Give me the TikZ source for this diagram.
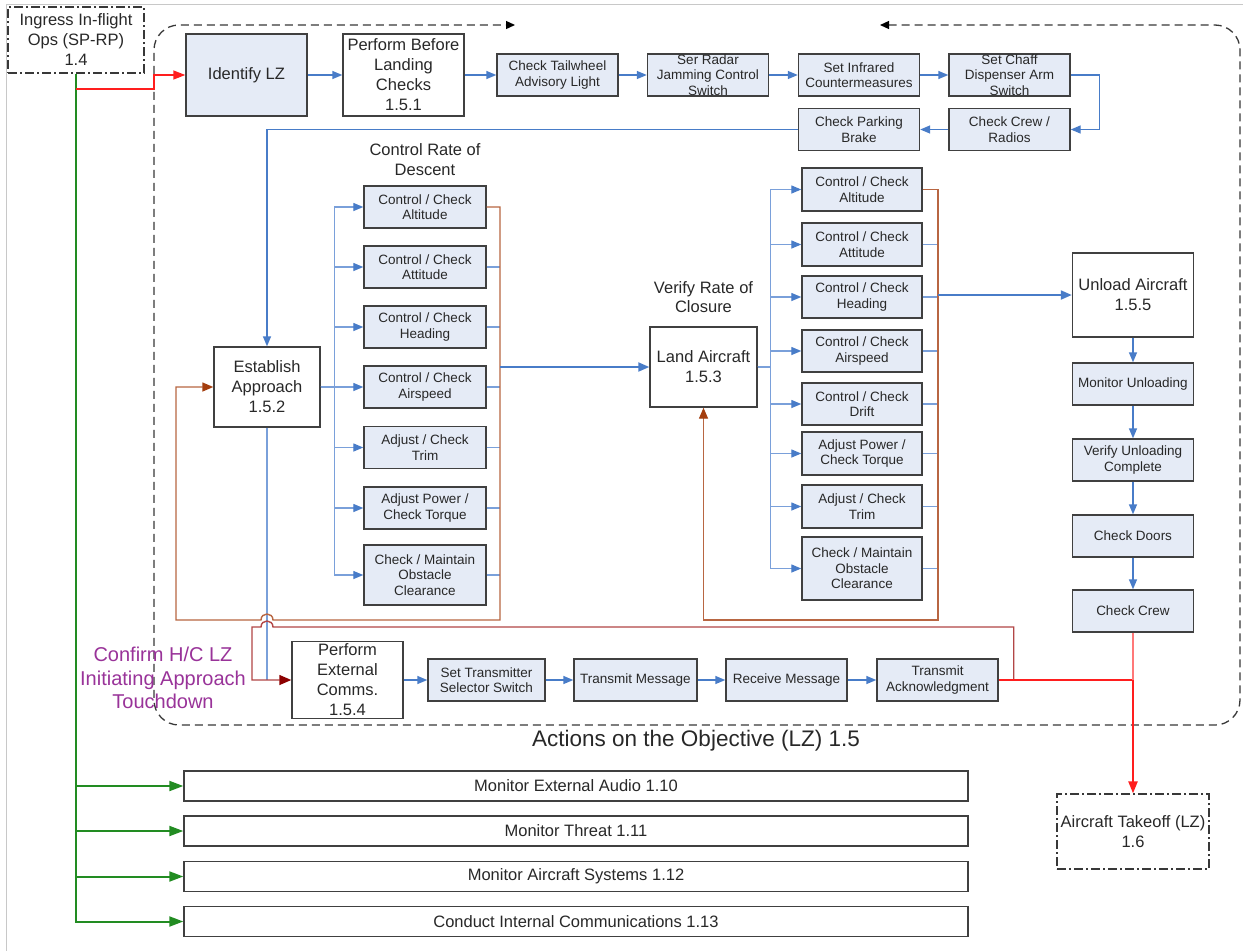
\documentclass[tikz,border=0pt]{standalone}
\usepackage{fontspec}
\setmainfont{Liberation Sans}
\usetikzlibrary{arrows.meta,calc}

\definecolor{boxfill}{RGB}{229,235,246}
\definecolor{boxline}{RGB}{64,64,64}
\definecolor{textgray}{RGB}{40,40,40}
\definecolor{flow}{RGB}{72,124,200}
\definecolor{flowlight}{RGB}{122,160,218}
\definecolor{fbline}{RGB}{184,102,66}
\definecolor{fbhead}{RGB}{164,62,14}
\definecolor{commline}{RGB}{178,70,70}
\definecolor{commhead}{RGB}{140,0,0}
\definecolor{alarm}{RGB}{255,30,30}
\definecolor{alarmpale}{RGB}{255,120,120}
\definecolor{monitor}{RGB}{34,140,34}
\definecolor{note}{RGB}{153,51,153}
\definecolor{framegray}{RGB}{200,200,200}
\definecolor{regiongray}{RGB}{56,56,56}

\tikzset{
  boxbase/.style={draw=boxline, line width=1.4pt, rectangle, inner sep=0pt,
    align=center, text=textgray},
  task/.style={boxbase, fill=boxfill, minimum width=121pt, minimum height=42pt,
    font=\fontsize{13.5}{15.5}\selectfont},
  phase/.style={boxbase, fill=white, font=\fontsize{16.5}{20}\selectfont},
  monbox/.style={boxbase, fill=white, minimum width=784pt, minimum height=30pt,
    font=\fontsize{16.5}{19}\selectfont},
  extbox/.style={draw=regiongray, line width=1.2pt,
    dash pattern=on 9pt off 3pt on 2pt off 3pt, inner sep=0pt, align=center,
    text=textgray, font=\fontsize{16.5}{20}\selectfont},
  caption/.style={align=center, inner sep=0pt, text=textgray,
    font=\fontsize{16.5}{19.5}\selectfont},
  flowarrow/.style={draw=flow, line width=1.4pt,
    -{Triangle[length=10pt,width=8pt,color=flow]}},
  flowfan/.style={draw=flowlight, line width=1.3pt,
    -{Triangle[length=10pt,width=8pt,color=flow]}},
  flowmain/.style={draw=flow, line width=2pt,
    -{Triangle[length=11pt,width=9pt,color=flow]}},
  flowthin/.style={draw=flowlight, line width=1.3pt},
  fback/.style={draw=fbline, line width=1.4pt,
    -{Triangle[length=11pt,width=9pt,color=fbhead]}},
  commback/.style={draw=commline, line width=1.4pt,
    -{Triangle[length=12pt,width=10pt,color=commhead]}},
  alarmline/.style={draw=alarm, line width=2pt},
  alarmpaleline/.style={draw=alarmpale, line width=2pt},
  alarmarrow/.style={draw=alarm, line width=2.2pt,
    -{Triangle[length=12pt,width=9pt,color=alarm]}},
  monarrow/.style={draw=monitor, line width=2pt,
    -{Triangle[length=14pt,width=10pt,color=monitor]}},
}

\begin{document}
\begin{tikzpicture}[x=1pt,y=-1pt]
\useasboundingbox (0,0) rectangle (1243,951);
\fill[white] (0,0) rectangle (1243,951);
\draw[framegray, line width=1pt] (6.5,951) -- (6.5,4.5) -- (1243,4.5);

% dashed region of phase 1.5, open at the top
\draw[regiongray, line width=1.3pt, dash pattern=on 8pt off 5pt, rounded corners=25pt,
  {Triangle[length=9pt,width=8pt,color=black]}-{Triangle[length=9pt,width=8pt,color=black]}]
  (880,25) -- (1240,25) -- (1240,725) -- (154,725) -- (154,25) -- (515,25);

% neighbouring phases
\node[extbox, minimum width=136pt, minimum height=66pt] (ing) at (76,40)
  {Ingress In-flight\\Ops (SP-RP)\\1.4};
\node[extbox, minimum width=152pt, minimum height=75pt] (tko) at (1133,831.5)
  {Aircraft Takeoff (LZ)\\1.6};

% top row
\node[phase, fill=boxfill, minimum width=121pt, minimum height=82pt] (lz) at (246.5,75) {Identify LZ};
\node[phase, minimum width=121pt, minimum height=82pt] (pbl) at (403.5,75)
  {Perform Before\\Landing\\Checks\\1.5.1};
\node[task] (ctw) at (557.5,75) {Check Tailwheel\\Advisory Light};
\node[task] (srj) at (708,75) {Ser Radar\\Jamming Control\\Switch};
\node[task] (sir) at (859,75) {Set Infrared\\Countermeasures};
\node[task] (scd) at (1009.5,75) {Set Chaff\\Dispenser Arm\\Switch};
\node[task] (ccr) at (1009.5,129.5) {Check Crew /\\Radios};
\node[task] (cpb) at (859,129.5) {Check Parking\\Brake};

% approach
\node[phase, minimum width=106pt, minimum height=80pt] (ea) at (267,387)
  {Establish\\Approach\\1.5.2};
\node[caption] (crd) at (425,159.5) {Control Rate of\\Descent};
\node[task, minimum width=122pt] (la1) at (425,207) {Control / Check\\Altitude};
\node[task, minimum width=122pt] (la2) at (425,267) {Control / Check\\Attitude};
\node[task, minimum width=122pt] (la3) at (425,327) {Control / Check\\Heading};
\node[task, minimum width=122pt] (la4) at (425,387) {Control / Check\\Airspeed};
\node[task, minimum width=122pt] (la5) at (425,447.5) {Adjust / Check\\Trim};
\node[task, minimum width=122pt] (la6) at (425,508) {Adjust Power /\\Check Torque};
\node[task, minimum width=122pt, minimum height=60pt] (la7) at (425,575)
  {Check / Maintain\\Obstacle\\Clearance};

% landing
\node[phase, minimum width=107pt, minimum height=80pt] (land) at (703.5,367)
  {Land Aircraft\\1.5.3};
\node[caption] (vrc) at (703.5,297) {Verify Rate of\\Closure};
\node[task, minimum width=120pt, minimum height=43pt] (ra1) at (862,189.5) {Control / Check\\Altitude};
\node[task, minimum width=120pt, minimum height=43pt] (ra2) at (862,244.5) {Control / Check\\Attitude};
\node[task, minimum width=120pt] (ra3) at (862,297) {Control / Check\\Heading};
\node[task, minimum width=120pt] (ra4) at (862,351) {Control / Check\\Airspeed};
\node[task, minimum width=120pt] (ra5) at (862,404) {Control / Check\\Drift};
\node[task, minimum width=120pt, minimum height=43pt] (ra6) at (862,453.5) {Adjust Power /\\Check Torque};
\node[task, minimum width=120pt, minimum height=43pt] (ra7) at (862,506.5) {Adjust / Check\\Trim};
\node[task, minimum width=120pt, minimum height=63pt] (ra8) at (862,568.5)
  {Check / Maintain\\Obstacle\\Clearance};

% unloading
\node[phase, minimum width=121pt, minimum height=84pt] (ua) at (1133,295)
  {Unload Aircraft\\1.5.5};
\node[task] (mu) at (1133,384) {Monitor Unloading};
\node[task] (vuc) at (1133,460) {Verify Unloading\\Complete};
\node[task] (cd) at (1133,536) {Check Doors};
\node[task] (cc) at (1133,611) {Check Crew};

% external communications
\node[phase, minimum width=111pt, minimum height=77pt] (pec) at (347.5,680)
  {Perform\\External\\Comms.\\1.5.4};
\node[task, minimum width=117pt] (sts) at (486.5,680) {Set Transmitter\\Selector Switch};
\node[task, minimum width=123pt] (tm) at (635.5,680) {Transmit Message};
\node[task] (rm) at (786.5,680) {Receive Message};
\node[task] (tack) at (937.5,680) {Transmit\\Acknowledgment};

% concurrent monitoring tasks
\node[monbox] (m1) at (576,786) {Monitor External Audio 1.10};
\node[monbox] (m2) at (576,831) {Monitor Threat 1.11};
\node[monbox] (m3) at (576,876.5) {Monitor Aircraft Systems 1.12};
\node[monbox] (m4) at (576,921.5) {Conduct Internal Communications 1.13};

% captions
\node[align=center, inner sep=0pt, text=note, font=\fontsize{20}{23.5}\selectfont] (cap)
  at (163,678) {Confirm H/C LZ\\Initiating Approach\\Touchdown};
\node[inner sep=0pt, text=textgray, font=\fontsize{22.5}{26}\selectfont] (aoo)
  at (696,741) {Actions on the Objective (LZ) 1.5};

% entry from 1.4
\coordinate (split) at (76,89);
\foreach \m in {m1,m2,m3,m4} \draw[monarrow] (ing.south) |- (\m.west);
\draw[alarmarrow, line width=1.4pt] (split) -- (154,89) |- (lz.west);

% pre-landing checks
\draw[flowarrow] (lz.east) -- (pbl.west);
\draw[flowarrow] (pbl.east) -- (ctw.west);
\draw[flowarrow] (ctw.east) -- (srj.west);
\draw[flowarrow] (srj.east) -- (sir.west);
\draw[flowarrow] (sir.east) -- (scd.west);
\draw[flowarrow] (scd.east) -- ++(29,0) |- (ccr.east);
\draw[flowarrow] (ccr.west) -- (cpb.east);
\draw[flowarrow] (cpb.west) -| (ea.north);

% approach fan-out and return loop
\foreach \i in {1,...,7} \draw[flowfan] (ea.east) -- ++(14,0) |- (la\i.west);
\coordinate (lbus) at (500,620);
\coordinate (lret) at (176,620);
\foreach \i in {2,...,7} \draw[flowthin] (la\i.east) -- (la\i.east -| lbus);
\draw[flowthin] (ea.south) -- (ea.south |- pec.west);
\draw[fback] (la1.east) -| (lbus) -- (273,620) .. controls (273,612) and (261,612) .. (261,620)
  -- (lret) |- (ea.west);
\draw[flowmain] (land.west -| lbus) -- (land.west);

% landing fan-out and return loop
\foreach \i in {1,...,8} \draw[flowfan] (land.east) -- ++(13,0) |- (ra\i.west);
\coordinate (rbus) at (938,620);
\foreach \i in {2,...,8} \draw[flowthin] (ra\i.east) -- (ra\i.east -| rbus);
\draw[fback] (ra1.east) -| (rbus) -| (land.south);
\draw[flowmain] (ua.west -| rbus) -- (ua.west);

% unloading chain
\draw[flowarrow] (ua.south) -- (mu.north);
\draw[flowarrow] (mu.south) -- (vuc.north);
\draw[flowarrow] (vuc.south) -- (cd.north);
\draw[flowarrow] (cd.south) -- (cc.north);

% communications chain and its loop
\draw[flowarrow] (pec.east) -- (sts.west);
\draw[flowarrow] (sts.east) -- (tm.west);
\draw[flowarrow] (tm.east) -- (rm.west);
\draw[flowarrow] (rm.east) -- (tack.west);
\draw[commback] ($(tack.east)+(15,0)$) |- (273,627) .. controls (273,619) and (261,619) .. (261,627)
  -- (252,627) |- (pec.west);

% exit to 1.6
\draw[alarmline] (tack.east) -- (tack.east -| cc.south);
\draw[alarmpaleline] (cc.south) -- (cc.south |- tack.east);
\draw[alarmarrow] (cc.south |- tack.east) -- (tko.north);
\end{tikzpicture}
\end{document}
